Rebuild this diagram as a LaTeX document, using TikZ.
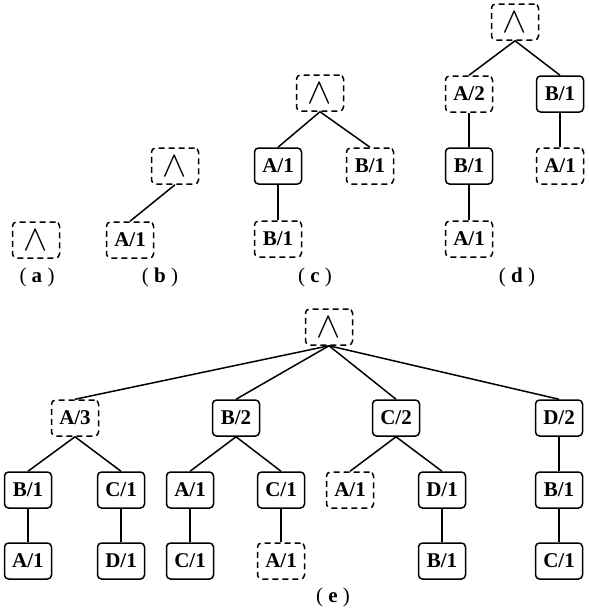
\documentclass[tikz,border=0pt]{standalone}
\usepackage{fontspec}
\setmainfont{Liberation Serif}
\usepackage{graphicx}
\usepackage{tikz}
\usetikzlibrary{positioning}

\newcommand{\andsym}{\scalebox{1.75}{$\wedge$}}

\begin{document}
\begin{tikzpicture}[x=1pt, y=-1pt,
      font=\bfseries\fontsize{21}{24}\selectfont,
      box/.style={draw=black, line width=1.5pt, rounded corners=4pt,
                  minimum width=47pt, minimum height=36pt, inner sep=0pt},
      dbox/.style={box, dash pattern=on 6pt off 4pt},
      lnk/.style={line width=1.5pt, black},
      sublabel/.style={font=\fontsize{21}{24}\selectfont}]
    \useasboundingbox (0,0) rectangle (589,611);
    % (a)
    \node[dbox] (a-root) at (36,240) {\andsym};
    \node[sublabel] (a-lab) at (37,277) {(\ \textbf{a}\ )};
    % (b)
    \node[dbox] (b-root) at (175,166) {\andsym};
    \node[dbox] (b-a) at (130,240) {A/1};
    \node[sublabel] (b-lab) at (160,277) {(\ \textbf{b}\ )};
    \draw[lnk] (b-root.south) -- (b-a.north);
    % (c)
    \node[dbox] (c-root) at (320,93) {\andsym};
    \node[box] (c-a) at (278,166) {A/1};
    \node[dbox] (c-b) at (370,166) {B/1};
    \node[dbox] (c-ab) at (278,239) {B/1};
    \node[sublabel] (c-lab) at (315,277) {(\ \textbf{c}\ )};
    \draw[lnk] (c-root.south) -- (c-a.north);
    \draw[lnk] (c-root.south) -- (c-b.north);
    \draw[lnk] (c-a) -- (c-ab);
    % (d)
    \node[dbox] (d-root) at (515,22) {\andsym};
    \node[dbox] (d-a) at (469,94) {A/2};
    \node[box] (d-b) at (560,94) {B/1};
    \node[box] (d-ab) at (469,166) {B/1};
    \node[dbox] (d-ba) at (560,166) {A/1};
    \node[dbox] (d-aba) at (469,239) {A/1};
    \node[sublabel] (d-lab) at (517,277) {(\ \textbf{d}\ )};
    \draw[lnk] (d-root.south) -- (d-a.north);
    \draw[lnk] (d-root.south) -- (d-b.north);
    \draw[lnk] (d-a) -- (d-ab);
    \draw[lnk] (d-ab) -- (d-aba);
    \draw[lnk] (d-b) -- (d-ba);
    % (e)
    \node[dbox] (e-root) at (329,327) {\andsym};
    \node[dbox] (e-a) at (75,418) {A/3};
    \node[box] (e-b) at (236,418) {B/2};
    \node[box] (e-c) at (396,418) {C/2};
    \node[box] (e-d) at (559,418) {D/2};
    \node[box] (e-ab) at (28,490) {B/1};
    \node[box] (e-ac) at (121,490) {C/1};
    \node[box] (e-ba) at (190,490) {A/1};
    \node[box] (e-bc) at (281,490) {C/1};
    \node[dbox] (e-ca) at (350,490) {A/1};
    \node[box] (e-cd) at (442,490) {D/1};
    \node[box] (e-db) at (559,490) {B/1};
    \node[box] (e-aba) at (28,561) {A/1};
    \node[box] (e-acd) at (121,561) {D/1};
    \node[box] (e-bac) at (190,561) {C/1};
    \node[dbox] (e-bca) at (281,561) {A/1};
    \node[box] (e-cdb) at (442,561) {B/1};
    \node[box] (e-dbc) at (559,561) {C/1};
    \node[sublabel] (e-lab) at (333,597) {(\ \textbf{e}\ )};
    \foreach \kid in {a,b,c,d}
      \draw[lnk] (e-root.south) -- (e-\kid.north);
    \draw[lnk] (e-a.south) -- (e-ab.north);
    \draw[lnk] (e-a.south) -- (e-ac.north);
    \draw[lnk] (e-b.south) -- (e-ba.north);
    \draw[lnk] (e-b.south) -- (e-bc.north);
    \draw[lnk] (e-c.south) -- (e-ca.north);
    \draw[lnk] (e-c.south) -- (e-cd.north);
    \draw[lnk] (e-d) -- (e-db);
    \draw[lnk] (e-ab) -- (e-aba);
    \draw[lnk] (e-ac) -- (e-acd);
    \draw[lnk] (e-ba) -- (e-bac);
    \draw[lnk] (e-bc) -- (e-bca);
    \draw[lnk] (e-cd) -- (e-cdb);
    \draw[lnk] (e-db) -- (e-dbc);
  \end{tikzpicture}
\end{document}
